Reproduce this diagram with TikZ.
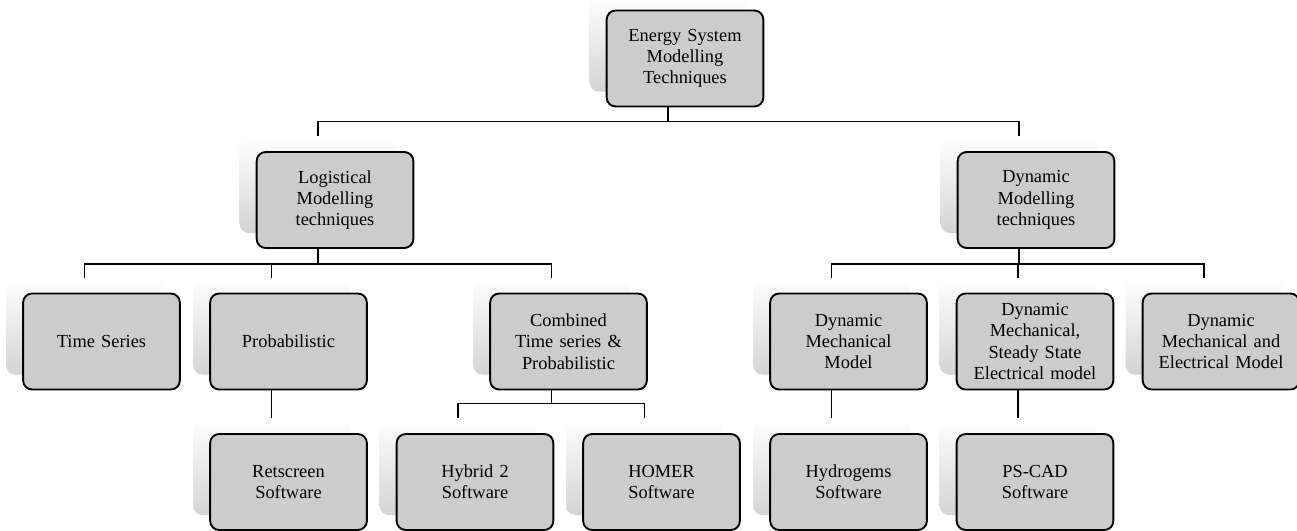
\documentclass[tikz,border=0pt]{standalone}
\usepackage{fontspec}
\setmainfont{Liberation Serif}
\usetikzlibrary{shadows}
\begin{document}
\begin{tikzpicture}[x=1pt,y=-1pt,
  card/.style={draw=black,line width=1.9pt,rounded corners=9pt,fill=black!20,
    minimum width=153pt,minimum height=96pt,text width=150pt,align=center,
    font=\fontsize{18.4}{21.3}\selectfont,
    general shadow={shadow xshift=-17pt,shadow yshift=15pt,top color=white,bottom color=black!17}},
  link/.style={line width=1.9pt}]
\useasboundingbox (0,0) rectangle (1297,530);
\node[card] (top) at (685,58.5) {Energy System\\Modelling\\Techniques};
\node[card] (log) at (335,200) {Logistical\\Modelling\\techniques};
\node[card] (dyn) at (1036,200) {Dynamic\\Modelling\\techniques};
\node[card] (ts) at (101.5,341.5) {Time Series};
\node[card] (prob) at (288.5,341.5) {Probabilistic};
\node[card] (comb) at (568.5,341.5) {Combined\\Time series \&\\Probabilistic};
\node[card] (dmm) at (848.5,341.5) {Dynamic\\Mechanical\\Model};
\node[card] (dmss) at (1035,341.5) {Dynamic\\Mechanical,\\Steady State\\Electrical model};
\node[card] (dme) at (1221,341.5) {Dynamic\\Mechanical and\\Electrical Model};
\node[card] (ret) at (288.5,482) {Retscreen\\Software};
\node[card] (hyb) at (475,482) {Hybrid 2\\Software};
\node[card] (hom) at (661.5,482) {HOMER\\Software};
\node[card] (hyd) at (848.5,482) {Hydrogems\\Software};
\node[card] (ps) at (1035,482) {PS-CAD\\Software};
\draw[link] ([xshift=-17pt]top.south) -- ++(0,14) coordinate (b1) -| ([shift={(-17pt,15pt)}]log.north);
\draw[link] (b1) -| ([shift={(-17pt,15pt)}]dyn.north);
\draw[link] ([xshift=-17pt]log.south) -- ++(0,15) coordinate (b2) -| ([shift={(-17pt,15pt)}]ts.north);
\draw[link] (b2) -| ([shift={(-17pt,15pt)}]prob.north);
\draw[link] (b2) -| ([shift={(-17pt,15pt)}]comb.north);
\draw[link] ([xshift=-17pt]dyn.south) -- ++(0,15) coordinate (b3) -| ([shift={(-17pt,15pt)}]dmm.north);
\draw[link] (b3) -| ([shift={(-17pt,15pt)}]dmss.north);
\draw[link] (b3) -| ([shift={(-17pt,15pt)}]dme.north);
\draw[link] ([xshift=-17pt]prob.south) -- ([shift={(-17pt,15pt)}]ret.north);
\draw[link] ([xshift=-17pt]comb.south) -- ++(0,13) coordinate (b4) -| ([shift={(-17pt,15pt)}]hyb.north);
\draw[link] (b4) -| ([shift={(-17pt,15pt)}]hom.north);
\draw[link] ([xshift=-17pt]dmm.south) -- ([shift={(-17pt,15pt)}]hyd.north);
\draw[link] ([xshift=-17pt]dmss.south) -- ([shift={(-17pt,15pt)}]ps.north);
\end{tikzpicture}
\end{document}
